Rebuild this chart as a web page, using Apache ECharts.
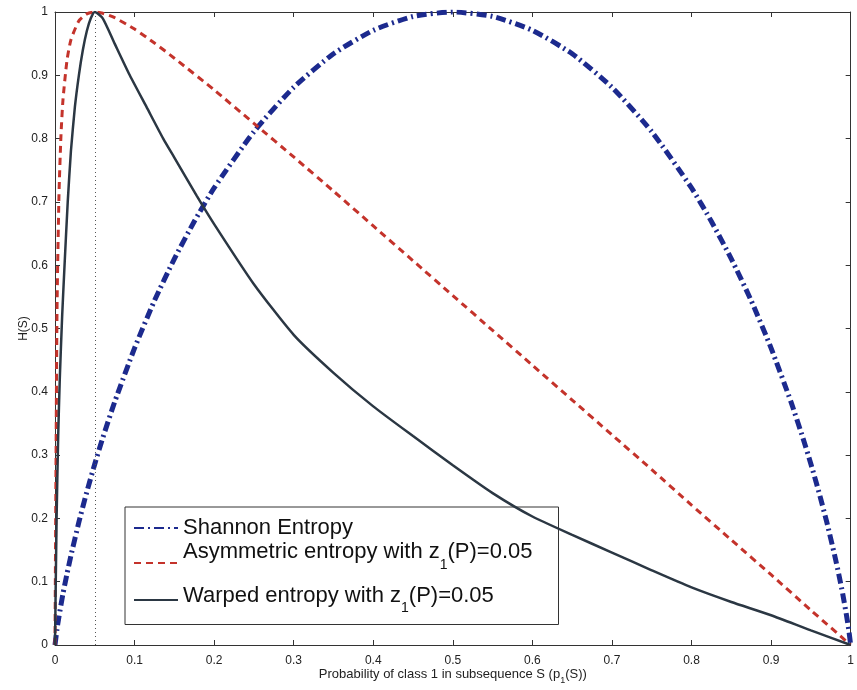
<!DOCTYPE html>
<html>
<head>
<meta charset="utf-8">
<script src="https://cdn.jsdelivr.net/npm/echarts@6/dist/echarts.min.js"></script>
<style>
  html, body { margin: 0; padding: 0; background: #fff; }
  #main { width: 857px; height: 690px; }
</style>
</head>
<body>
<div id="main"></div>
<script>
// values
const shannonX = [0, 0.0025, 0.005, 0.01, 0.015, 0.02, 0.03, 0.04, 0.05, 0.06, 0.075, 0.1, 0.125, 0.15, 0.175, 0.2, 0.25, 0.3, 0.35, 0.4, 0.45, 0.5,
  0.55, 0.6, 0.65, 0.7, 0.75, 0.8, 0.825, 0.85, 0.875, 0.9, 0.925, 0.94, 0.95, 0.96, 0.97, 0.98, 0.985, 0.99, 0.995, 0.9975, 1];
const shannonY = [0, 0.025, 0.045, 0.081, 0.112, 0.141, 0.194, 0.242, 0.286, 0.327, 0.384, 0.469, 0.544, 0.61, 0.669, 0.722, 0.811, 0.881, 0.934, 0.971, 0.993, 1,
  0.993, 0.971, 0.934, 0.881, 0.811, 0.722, 0.669, 0.61, 0.544, 0.469, 0.384, 0.327, 0.286, 0.242, 0.194, 0.141, 0.112, 0.081, 0.045, 0.025, 0];

const asymX = [0, 0.0025, 0.005, 0.0075, 0.01, 0.015, 0.02, 0.03, 0.04, 0.05, 0.06, 0.075, 0.1, 0.125, 0.15, 0.2, 0.25, 0.3, 0.35, 0.4, 0.45, 0.5,
  0.55, 0.6, 0.65, 0.7, 0.75, 0.8, 0.85, 0.9, 0.95, 1];
const asymY = [0, 0.525, 0.711, 0.805, 0.861, 0.923, 0.956, 0.986, 0.997, 1, 0.998, 0.991, 0.973, 0.951, 0.927, 0.877, 0.824, 0.771, 0.717, 0.662, 0.607, 0.552,
  0.497, 0.442, 0.387, 0.332, 0.277, 0.221, 0.166, 0.111, 0.055, 0];

const warpX = [0, 0.002, 0.004, 0.006, 0.009, 0.012, 0.016, 0.02, 0.025, 0.03, 0.035, 0.04, 0.045, 0.05, 0.06, 0.075, 0.094, 0.115, 0.136, 0.15, 0.178, 0.2,
  0.25, 0.3, 0.35, 0.4, 0.45, 0.5, 0.55, 0.6, 0.65, 0.7, 0.75, 0.8, 0.85, 0.9, 0.95, 1];
const warpY = [0, 0.2, 0.33, 0.42, 0.52, 0.6, 0.7, 0.78, 0.85, 0.9, 0.94, 0.97, 0.99, 1, 0.99, 0.95, 0.9, 0.85, 0.8, 0.77, 0.71, 0.665,
  0.57, 0.49, 0.43, 0.377, 0.33, 0.284, 0.24, 0.203, 0.174, 0.146, 0.118, 0.091, 0.068, 0.047, 0.023, 0];

const zPoint = 0.05;
const seriesNames = ["Shannon Entropy", "Asymmetric entropy", "Warped entropy"];

const pairs = (xs, ys) => xs.map((x, i) => [x, ys[i]]);

const chart = echarts.init(document.getElementById("main"));

const font = "'Liberation Sans', Arial, Helvetica, sans-serif";

// second (blank) line on the asymmetric entry gives the extra space seen in the original legend
const legendText = {
  "Shannon Entropy": "{t|Shannon Entropy}",
  "Asymmetric entropy": "{t|Asymmetric entropy with z}{s|1}{t|(P)=0.05}\n{g| }",
  "Warped entropy": "{t|Warped entropy with z}{s|1}{t|(P)=0.05}",
};

const axisLine = { show: true, onZero: false, lineStyle: { color: "#333", width: 1 } };
const axisTick = { show: true, inside: true, length: 5, lineStyle: { color: "#333" } };

const option = {
  animation: false,
  backgroundColor: "#fff",
  textStyle: { fontFamily: font },
  grid: { left: 55, right: 3, top: 12, bottom: 42, containLabel: false },
  legend: {
    orient: "vertical",
    left: 125,
    top: 507,
    data: seriesNames,
    backgroundColor: "#fff",
    borderColor: "#333",
    borderWidth: 1,
    borderRadius: 0,
    padding: [10, 26, 9, 8],
    itemGap: 2,
    itemWidth: 44,
    itemHeight: 12,
    selectedMode: false,
    itemStyle: { color: "transparent", borderWidth: 0, opacity: 0 },
    formatter: (name) => legendText[name],
    textStyle: {
      fontFamily: font,
      fontSize: 22,
      color: "#111",
      rich: {
        t: { fontSize: 22, color: "#111", verticalAlign: "top", fontFamily: font },
        s: { fontSize: 14, color: "#111", verticalAlign: "top", padding: [17, 0, 0, 0], fontFamily: font },
        g: { fontSize: 8, lineHeight: 13, fontFamily: font },
      },
    },
  },
  xAxis: [
    {
      type: "value",
      min: 0,
      max: 1,
      interval: 0.1,
      position: "bottom",
      name: "{n|Probability of class 1 in subsequence S (p}{s|1}{n|(S))}",
      nameLocation: "middle",
      nameGap: 23,
      nameMoveOverlap: false,
      nameTextStyle: {
        fontFamily: font,
        fontSize: 13,
        color: "#222",
        rich: {
          n: { fontSize: 13, color: "#222", verticalAlign: "top", fontFamily: font },
          s: { fontSize: 9, color: "#222", verticalAlign: "top", padding: [8, 0, 0, 0], fontFamily: font },
        },
      },
      axisLine: axisLine,
      axisTick: axisTick,
      axisLabel: { color: "#222", fontSize: 12, margin: 10, fontFamily: font },
      splitLine: { show: false },
    },
    {
      type: "value",
      min: 0,
      max: 1,
      interval: 0.1,
      position: "top",
      axisLine: axisLine,
      axisTick: axisTick,
      axisLabel: { show: false },
      splitLine: { show: false },
    },
  ],
  yAxis: [
    {
      type: "value",
      min: 0,
      max: 1,
      interval: 0.1,
      position: "left",
      name: "H(S)",
      nameLocation: "middle",
      nameGap: 25,
      nameMoveOverlap: false,
      nameTextStyle: { fontFamily: font, fontSize: 12, color: "#222" },
      axisLine: axisLine,
      axisTick: axisTick,
      axisLabel: { color: "#222", fontSize: 12, margin: 7, fontFamily: font },
      splitLine: { show: false },
    },
    {
      type: "value",
      min: 0,
      max: 1,
      interval: 0.1,
      position: "right",
      axisLine: axisLine,
      axisTick: axisTick,
      axisLabel: { show: false },
      splitLine: { show: false },
    },
  ],
  series: [
    {
      name: seriesNames[0],
      type: "line",
      data: pairs(shannonX, shannonY),
      showSymbol: false,
      symbol: "none",
      smooth: 0.2,
      z: 3,
      lineStyle: { color: "#1c2a8e", width: 5, type: [10, 4, 2, 4], cap: "butt" },
      itemStyle: { color: "#1c2a8e" },
    },
    {
      name: seriesNames[1],
      type: "line",
      data: pairs(asymX, asymY),
      showSymbol: false,
      symbol: "none",
      smooth: 0.2,
      z: 4,
      lineStyle: { color: "#c4332b", width: 3, type: [7, 5], cap: "butt" },
      itemStyle: { color: "#c4332b" },
    },
    {
      name: seriesNames[2],
      type: "line",
      data: pairs(warpX, warpY),
      showSymbol: false,
      symbol: "none",
      smooth: 0.2,
      z: 5,
      lineStyle: { color: "#2b3743", width: 2.5 },
      itemStyle: { color: "#2b3743" },
      markLine: {
        silent: true,
        symbol: "none",
        label: { show: false },
        lineStyle: { color: "#555", width: 1, type: [1, 3] },
        data: [{ xAxis: zPoint }],
      },
    },
  ],
};

chart.setOption(option);
</script>
</body>
</html>
